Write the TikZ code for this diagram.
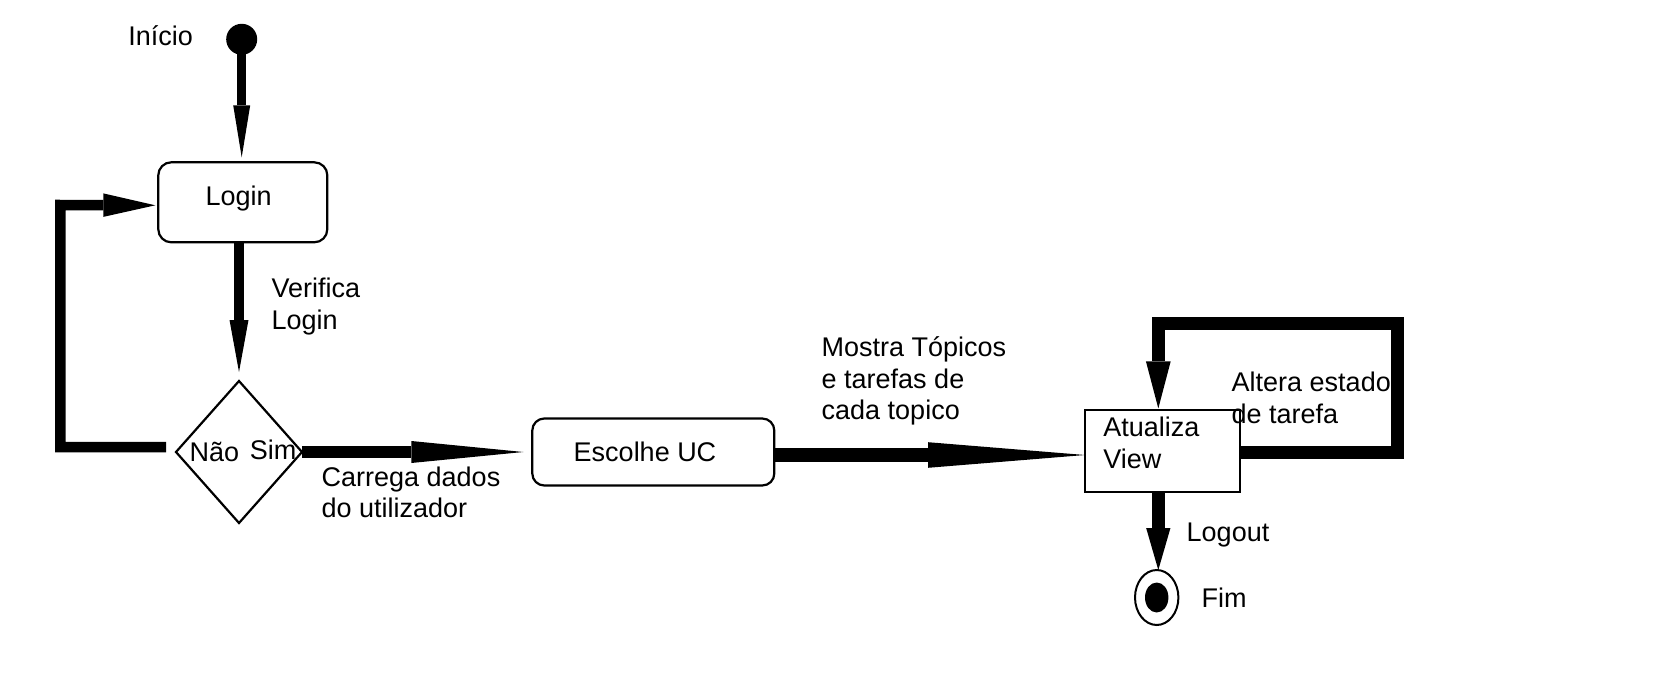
\documentclass[tikz,border=0pt]{standalone}
\usepackage{fontspec}
\setmainfont{Liberation Sans}
\usetikzlibrary{arrows.meta,shapes.geometric}
\begin{document}
\begin{tikzpicture}[x=1pt,y=-1pt,
  every node/.style={inner sep=0pt, outer sep=0pt, font=\fontsize{27}{31.5}\selectfont},
  txt/.style={anchor=base west, align=left},
  ctxt/.style={anchor=base},
  boxline/.style={draw, line width=2.2pt},
  flow/.style={line width=#1, line join=miter},
  ahd/.style 2 args={-{Triangle[length=#1,width=#2,line width=0pt]}},
]
\fill[white] (0,0) rectangle (1677,674);
\useasboundingbox (0,0) rectangle (1677,674);

% nodes
\node[circle, fill=black, minimum size=31pt] (start) at (241.7,39.3) {};
\node[boxline, rectangle, rounded corners=13pt, minimum width=169pt, minimum height=80pt] (login) at (242.8,202.3) {};
\node[boxline, diamond, minimum width=126pt, minimum height=142pt] (dec) at (239,452) {};
\node[boxline, rectangle, rounded corners=12pt, minimum width=242pt, minimum height=67pt] (escolhe) at (653.3,452) {};
\node[boxline, rectangle, minimum width=155pt, minimum height=81.7pt] (atualiza) at (1162.5,450.8) {};
\node[ellipse, draw, line width=2pt, minimum width=43.4pt, minimum height=55pt] (fim) at (1156.7,597.5) {};
\node[ellipse, fill=black, minimum width=23.4pt, minimum height=30pt] (fimdot) at (fim.center) {};

% texts (multi-line nodes: base = baseline of the last line)
\node[txt] (tinicio) at (128.3,45.7) {Início};
\node[ctxt] (tlogin) at (238.7,205) {Login};
\node[txt] (tverifica) at (271.7,329) {Verifica\\Login};
\node[ctxt] (tnao) at (214.5,461.7) {Não};
\node[ctxt] (tsim) at (273,459) {Sim};
\node[txt] (tcarrega) at (321.7,517.5) {Carrega dados\\do utilizador};
\node[ctxt] (tescolhe) at (645,461.7) {Escolhe UC};
\node[txt] (tmostra) at (821.7,419.7) {Mostra Tópicos\\e tarefas de\\cada topico};
\node[txt] (tatualiza) at (1103.3,468.3) {Atualiza\\View};
\node[txt] (taltera) at (1231.7,423.3) {Altera estado\\de tarefa};
\node[txt] (tlogout) at (1186.7,541.7) {Logout};
\node[txt] (tfim) at (1201.7,607.3) {Fim};

% connectors
\coordinate (lp) at (60.3,205);
\coordinate (sl) at (1397,323.3);

\draw[flow=9pt, ahd={52pt}{17pt}, shorten >=5pt] (start.center) -- (start.center |- login.north);
\draw[flow=10pt, ahd={52pt}{19pt}, shorten >=9pt] (login.south -| dec.north) -- (dec.north);
\draw[flow=10.5pt, ahd={52pt}{23.5pt}] ([xshift=-10pt,yshift=5pt]dec.west) -| (lp) -- ([xshift=-3pt,yshift=-3pt]login.west);
\draw[flow=11.7pt, ahd={112pt}{22pt}, shorten >=9pt] (dec.east) -- (escolhe.west);
\draw[flow=13.5pt, ahd={157pt}{25.6pt}] ([yshift=-3pt]escolhe.east) -- ([yshift=-3pt]escolhe.east -| atualiza.west);
\draw[flow=13pt, ahd={47pt}{24.7pt}, shorten >=1.5pt] ([yshift=-1.7pt]atualiza.east) -| (sl) -| ([xshift=-4.2pt]atualiza.north);
\draw[flow=13pt, ahd={42pt}{24.3pt}] ([xshift=-4.2pt]atualiza.south) -- ([xshift=-4.2pt]atualiza.south |- fim.north);
\end{tikzpicture}
\end{document}
